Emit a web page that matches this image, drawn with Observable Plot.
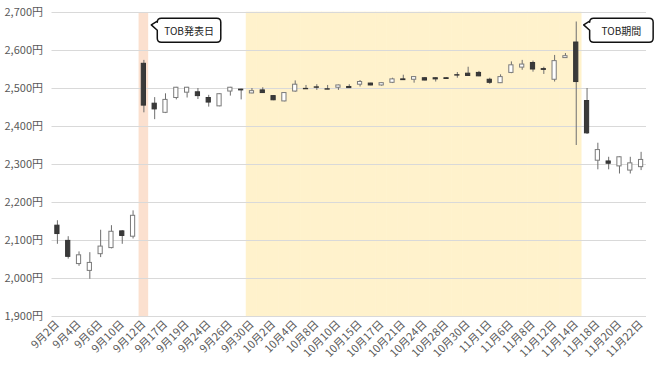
<!DOCTYPE html>
<html><head><meta charset="utf-8">
<script src="https://cdn.jsdelivr.net/npm/d3@7"></script>
<script src="https://cdn.jsdelivr.net/npm/@observablehq/plot@0.6"></script>
<style>body{margin:0;background:#fff;} svg{display:block}</style>
</head><body><div id="chart"></div>
<script>
const dates = ["9月2日","9月3日","9月4日","9月5日","9月6日","9月9日","9月10日","9月11日","9月12日","9月13日","9月17日","9月18日","9月19日","9月20日","9月24日","9月25日","9月26日","9月27日","9月30日","10月1日","10月2日","10月3日","10月4日","10月7日","10月8日","10月9日","10月10日","10月11日","10月15日","10月16日","10月17日","10月18日","10月21日","10月22日","10月24日","10月25日","10月28日","10月29日","10月30日","10月31日","11月1日","11月5日","11月6日","11月7日","11月8日","11月11日","11月12日","11月13日","11月14日","11月15日","11月18日","11月19日","11月20日","11月21日","11月22日"];
const open  = [2139,2099,2038,2020,2064,2080,2124,2110,2565,2460,2436,2475,2489,2490,2475,2453,2492,2497,2487,2495,2480,2466,2492,2499,2503,2498,2502,2504,2510,2513,2508,2515,2524,2523,2527,2527,2527,2535,2539,2541,2523,2514,2541,2555,2567,2551,2523,2580,2621,2467,2310,2308,2295,2284,2293];
const high  = [2152,2110,2070,2068,2127,2139,2126,2178,2574,2476,2486,2503,2503,2500,2482,2486,2503,2498,2500,2502,2481,2489,2520,2508,2510,2508,2509,2510,2521,2514,2515,2527,2535,2531,2529,2528,2528,2542,2556,2545,2527,2536,2570,2574,2572,2556,2587,2592,2675,2500,2356,2319,2320,2319,2332];
const low   = [2090,2051,2032,1998,2055,2078,2090,2104,2436,2418,2434,2470,2475,2471,2451,2452,2480,2470,2486,2487,2468,2465,2490,2498,2495,2497,2495,2501,2504,2507,2506,2513,2521,2514,2520,2517,2524,2527,2533,2531,2511,2513,2539,2548,2543,2537,2517,2580,2350,2379,2286,2286,2275,2275,2284];
const close = [2117,2057,2061,2041,2084,2123,2112,2165,2455,2445,2470,2502,2502,2480,2463,2485,2502,2495,2493,2488,2469,2488,2510,2498,2502,2497,2508,2501,2517,2508,2514,2524,2522,2530,2521,2524,2525,2534,2533,2532,2515,2530,2561,2563,2550,2549,2572,2585,2517,2382,2338,2302,2319,2303,2312];
const yTicks = [1900,2000,2100,2200,2300,2400,2500,2600,2700];
const announceDate = "9月12日";
const periodStart = "9月30日";
const periodEnd = "11月14日";
const calloutDates = ["9月12日","11月14日"];
const calloutLabels = ["TOB発表日","TOB期間"];
const calloutValues = [2666,2666];

const data = dates.map((d,i)=>({date:d, open:open[i], high:high[i], low:low[i], close:close[i]}));
const up = data.filter(d=>d.close>=d.open);
const down = data.filter(d=>d.close<d.open);
const periodDates = dates.slice(dates.indexOf(periodStart), dates.indexOf(periodEnd)+1);
const yMin = yTicks[0], yMax = yTicks[yTicks.length-1];

const chart = Plot.plot({
  width: 660, height: 371,
  marginLeft: 51.5, marginRight: 14, marginTop: 12, marginBottom: 55,
  style: {fontFamily: "'Noto Sans CJK JP', 'Noto Sans', sans-serif", fontSize: "11px", color: "#595959", background: "#fff"},
  x: {type: "band", domain: dates, padding: 0, label: null, axis: null},
  y: {domain: [yMin, yMax], label: null, axis: null},
  marks: [
    Plot.barY(periodDates, {x: d=>d, y1: yMin, y2: yMax, fill: "#fff2cc", stroke: "#fff2cc", strokeWidth: 0.6}),
    Plot.barY([announceDate], {x: d=>d, y1: yMin, y2: yMax, fill: "#fbe0cf", insetLeft: 0.6, insetRight: 0.6}),
    Plot.gridY(yTicks, {stroke: "#d9d9d9", strokeOpacity: 1}),
    Plot.axisY(yTicks, {tickSize: 0, tickPadding: 9, tickFormat: d => d3.format(",")(d) + "円", color: "#595959", label: null}),
    Plot.axisX(dates.filter((d,i)=>i%2===0), {tickSize: 0, tickRotate: -45, tickPadding: 6, color: "#595959", label: null}),
    Plot.ruleX(data, {x: "date", y1: "low", y2: "high", stroke: "#6e6e6e", strokeWidth: 1}),
    Plot.barY(up, {x: "date", y1: "open", y2: "close", fill: "#ffffff", stroke: "#7a7a7a", strokeWidth: 1, insetLeft: 3.3, insetRight: 3.3}),
    Plot.barY(down, {x: "date", y1: "open", y2: "close", fill: "#3a3a3a", stroke: "#333333", strokeWidth: 1, insetLeft: 3.3, insetRight: 3.3})
  ]
});

const xs = chart.scale("x"), ys = chart.scale("y");
const svg = d3.select(chart);
const g = svg.append("g");
calloutDates.forEach((dt, i) => {
  const tipX = xs.apply(dt) + xs.bandwidth + 2.5;
  const tipY = ys.apply(calloutValues[i]);
  const bx = tipX + 6, by = tipY - 6.7, bw = 63.5, bh = 24, r = 4;
  const p = `M${bx+r},${by} H${bx+bw-r} Q${bx+bw},${by} ${bx+bw},${by+r} V${by+bh-r} Q${bx+bw},${by+bh} ${bx+bw-r},${by+bh} H${bx+r} Q${bx},${by+bh} ${bx},${by+bh-r} V${by+12} L${tipX},${tipY} L${bx},${by+3} V${by+r} Q${bx},${by} ${bx+r},${by} Z`;
  g.append("path").attr("d", p).attr("fill", "#fff").attr("stroke", "#111").attr("stroke-width", 1.5).attr("stroke-linejoin", "round");
  g.append("text").attr("x", bx + bw/2).attr("y", by + bh/2).attr("text-anchor", "middle").attr("dominant-baseline", "central")
    .attr("font-size", "10px").attr("fill", "#222").text(calloutLabels[i]);
});

document.getElementById("chart").appendChild(chart);
</script>
</body></html>
